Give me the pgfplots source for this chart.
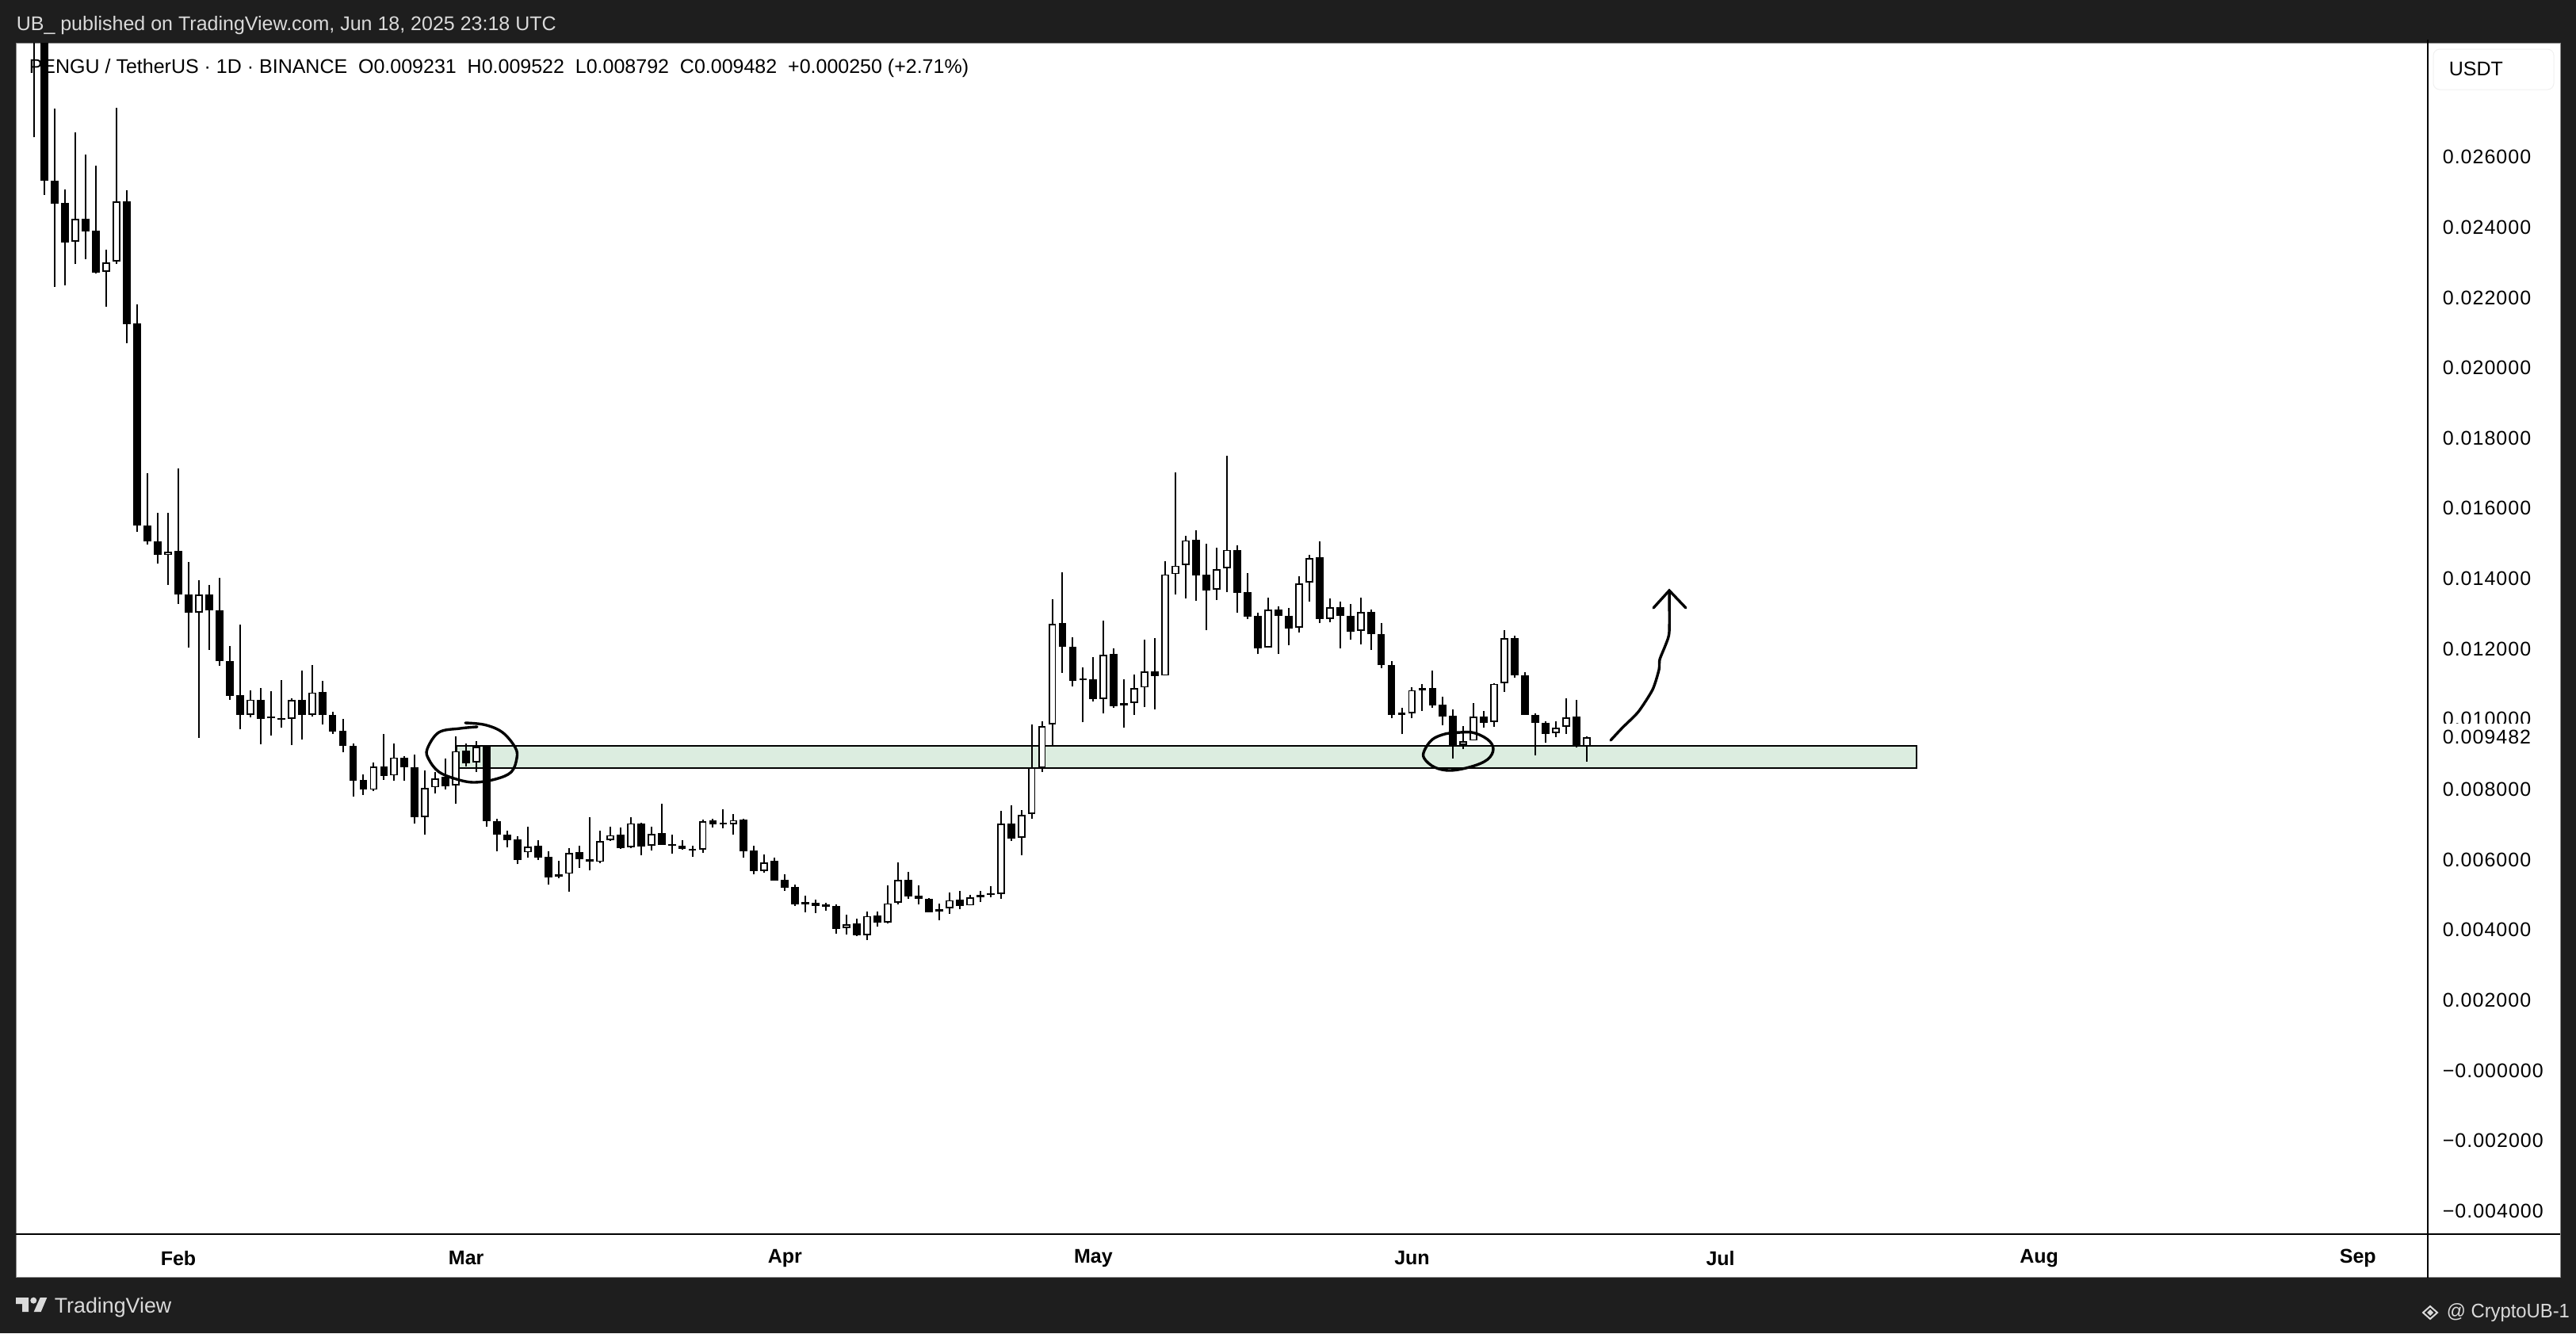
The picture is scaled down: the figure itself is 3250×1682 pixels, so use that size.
\documentclass[border=0pt]{standalone}
\usepackage{pgfplots}
\usepackage{pgfplotstable}
\pgfplotsset{compat=1.18}
\usepackage{fontspec}
\setmainfont{Liberation Sans}
\newfontfamily\tickfont[LetterSpace=4]{Liberation Sans}
\definecolor{frame}{HTML}{1E1E1E}
\definecolor{foot}{HTML}{DADADA}
\definecolor{band}{HTML}{DCEDE0}
\definecolor{edge}{HTML}{8A8A8A}
\newcommand{\hdfont}{\fontsize{6.25bp}{7bp}\selectfont}
\newcommand{\tkfont}{\tickfont\fontsize{6.25bp}{7bp}\selectfont}

% day (0 = 1 Feb 2025)  open  high  low  close
\pgfplotstableread{
d o h l c
-14 .03100 .03200 .02656 .03000
-13 .03000 .03100 .02492 .02532
-12 .02532 .02738 .02230 .02467
-11 .02469 .02507 .02234 .02357
-9 .02424 .02607 .02309 .02388
-8 .02390 .02575 .02268 .02271
-5 .02474 .02505 .02070 .02124
-4 .02126 .02180 .01533 .01552
-3 .01552 .01699 .01498 .01506
-2 .01507 .01588 .01443 .01468
0 .01478 .01713 .01328 .01355
1 .01356 .01448 .01204 .01303
3 .01356 .01381 .01197 .01309
4 .01309 .01402 .01152 .01165
5 .01166 .01208 .01056 .01066
6 .01068 .01269 .00972 .01013
8 .01056 .01088 .00929 .01001
9 .01007 .01080 .00954 .01002
10 .01004 .01111 .00976 .00999
12 .01056 .01139 .00943 .01013
14 .01077 .01108 .00986 .01011
15 .01011 .01020 .00958 .00965
16 .00966 .01000 .00906 .00923
17 .00923 .00932 .00780 .00825
18 .00826 .00842 .00785 .00799
20 .00866 .00957 .00828 .00839
22 .00891 .00895 .00824 .00864
23 .00864 .00899 .00702 .00722
26 .00837 .00887 .00801 .00810
28 .00910 .00932 .00866 .00874
30 .00923 .00923 .00695 .00710
31 .00710 .00716 .00625 .00672
32 .00672 .00682 .00636 .00656
33 .00657 .00668 .00587 .00600
35 .00639 .00656 .00600 .00607
36 .00608 .00625 .00530 .00550
39 .00621 .00641 .00577 .00601
40 .00601 .00722 .00571 .00594
43 .00671 .00691 .00631 .00633
45 .00704 .00705 .00613 .00638
47 .00675 .00759 .00643 .00643
48 .00645 .00671 .00617 .00640
49 .00639 .00656 .00629 .00631
50 .00631 .00640 .00609 .00626
52 .00711 .00716 .00692 .00701
53 .00705 .00743 .00689 .00700
55 .00714 .00716 .00607 .00625
56 .00626 .00639 .00559 .00568
58 .00597 .00607 .00541 .00541
59 .00542 .00558 .00511 .00520
60 .00522 .00529 .00469 .00473
61 .00479 .00498 .00451 .00474
62 .00477 .00486 .00449 .00469
63 .00472 .00477 .00456 .00467
64 .00468 .00474 .00390 .00404
66 .00419 .00432 .00383 .00385
68 .00441 .00453 .00410 .00421
71 .00544 .00565 .00489 .00495
72 .00497 .00527 .00473 .00488
73 .00488 .00490 .00450 .00450
76 .00486 .00511 .00460 .00468
78 .00499 .00511 .00480 .00494
79 .00505 .00524 .00494 .00500
81 .00704 .00755 .00654 .00661
86 .01273 .01419 .01132 .01207
87 .01207 .01233 .01094 .01109
88 .01116 .01147 .00991 .01111
89 .01113 .01176 .01050 .01057
91 .01185 .01201 .01033 .01038
92 .01045 .01113 .00975 .01039
95 .01137 .01230 .01028 .01123
99 .01510 .01537 .01337 .01410
100 .01411 .01499 .01254 .01367
103 .01482 .01494 .01304 .01360
104 .01361 .01415 .01284 .01292
105 .01293 .01302 .01185 .01202
107 .01311 .01322 .01185 .01295
108 .01295 .01316 .01210 .01259
111 .01460 .01506 .01273 .01286
113 .01320 .01334 .01202 .01295
114 .01295 .01328 .01227 .01249
116 .01306 .01311 .01197 .01243
117 .01243 .01273 .01146 .01155
118 .01155 .01165 .01002 .01013
119 .01018 .01033 .00957 .01013
121 .01088 .01099 .01024 .01083
122 .01088 .01138 .01033 .01039
123 .01041 .01065 .00983 .01007
124 .01009 .01027 .00889 .00926
127 .01008 .01023 .00977 .00990
130 .01232 .01238 .01119 .01125
131 .01126 .01133 .01013 .01013
132 .01013 .01016 .00898 .00989
133 .00989 .00993 .00934 .00959
136 .01007 .01054 .00919 .00925
}\downcandles

\pgfplotstableread{
d o h l c
-10 .02359 .02670 .02295 .02424
-7 .02273 .02336 .02174 .02300
-6 .02302 .02740 .02295 .02474
-1 .01468 .01587 .01383 .01477
2 .01304 .01395 .00947 .01355
7 .01013 .01083 .01006 .01056
11 .01001 .01060 .00927 .01055
13 .01013 .01155 .01008 .01076
19 .00799 .00877 .00795 .00866
21 .00840 .00932 .00824 .00891
24 .00722 .00854 .00672 .00804
25 .00806 .00850 .00788 .00831
27 .00811 .00952 .00760 .00909
29 .00877 .00937 .00850 .00921
34 .00621 .00693 .00605 .00638
37 .00551 .00598 .00548 .00559
38 .00560 .00633 .00510 .00620
41 .00594 .00682 .00591 .00654
42 .00656 .00695 .00654 .00670
44 .00635 .00722 .00634 .00704
46 .00640 .00693 .00627 .00674
51 .00628 .00714 .00620 .00710
54 .00701 .00729 .00672 .00713
57 .00568 .00614 .00564 .00593
65 .00405 .00443 .00388 .00417
67 .00386 .00453 .00372 .00440
69 .00422 .00527 .00419 .00476
70 .00477 .00592 .00473 .00543
74 .00452 .00475 .00428 .00460
75 .00462 .00507 .00446 .00485
77 .00470 .00499 .00470 .00493
80 .00503 .00740 .00489 .00703
82 .00662 .00742 .00613 .00727
83 .00730 .00985 .00717 .00862
84 .00862 .00995 .00850 .00981
85 .00985 .01342 .00925 .01272
90 .01058 .01280 .01017 .01184
93 .01046 .01128 .01013 .01089
94 .01090 .01226 .01034 .01136
96 .01124 .01449 .01124 .01412
97 .01413 .01703 .01355 .01437
98 .01438 .01522 .01344 .01509
101 .01368 .01487 .01340 .01427
102 .01429 .01750 .01362 .01482
106 .01204 .01347 .01204 .01311
109 .01260 .01406 .01247 .01386
110 .01389 .01467 .01335 .01459
112 .01285 .01343 .01276 .01319
115 .01252 .01347 .01213 .01305
120 .01016 .01090 .01002 .01083
125 .00926 .00980 .00915 .00938
126 .00939 .01045 .00939 .01007
128 .00992 .01103 .00979 .01101
129 .01102 .01253 .01078 .01231
134 .00960 .00995 .00949 .00976
135 .00978 .01059 .00959 .01005
137 .009231 .009522 .008792 .009482
}\upcandles

\pgfplotsset{
  vbar/.style 2 args={draw=none, mark=none, forget plot,
    error bars/.cd, y dir=plus, y explicit, error mark=none,
    error bar style={draw=#1, solid, line width=#2}},
}

\begin{document}
\begin{tikzpicture}[x=0.25bp,y=-0.25bp]
\fill[frame] (0,0) rectangle (3250,1682);
\useasboundingbox (0,0) rectangle (3250,1682);
\fill[white,draw=edge,line width=0.25bp] (20,54) rectangle (3230,1611);

\begin{axis}[
  at={(5bp,-13.5bp)}, anchor=north west,
  scale only axis, width=760.75bp, height=375.75bp,
  xmin=-15.806, xmax=218.81, ymin=-0.004656, ymax=0.02925,
  axis x line*=bottom, axis y line*=right,
  axis line style={black,line width=0.5bp,-},
  major tick length=0pt,
  scaled y ticks=false,
  xtick={0,28,59,89,120,150,181,212},
  xticklabels={Feb,Mar,Apr,May,Jun,Jul,Aug,Sep},
  xticklabel style={font=\hdfont\bfseries, anchor=center, yshift=-7.6bp},
  ytick={-0.004,-0.002,0,0.002,0.004,0.006,0.008,0.010,0.012,0.014,0.016,0.018,0.020,0.022,0.024,0.026},
  yticklabels={−0.004000,−0.002000,−0.000000,0.002000,0.004000,0.006000,0.008000,0.010000,0.012000,0.014000,0.016000,0.018000,0.020000,0.022000,0.024000,0.026000},
  yticklabel style={font=\tkfont, anchor=west, inner sep=0pt, xshift=4.5bp},
  clip=true,
]
% support zone
\addplot[fill=band, draw=black, line width=0.5bp, forget plot] coordinates
  {(27.06,0.00924)(169.08,0.00924)(169.08,0.00860)(27.06,0.00860)} -- cycle;
% wicks
\addplot[vbar={black}{0.5bp}]
  table[x=d, y=l, y error plus expr=\thisrow{h}-\thisrow{l}] {\downcandles};
\addplot[vbar={black}{0.5bp}]
  table[x=d, y=l, y error plus expr=\thisrow{h}-\thisrow{l}] {\upcandles};
% falling bodies
\addplot[vbar={black}{2.45bp}]
  table[x=d, y=c, y error plus expr=\thisrow{o}-\thisrow{c}] {\downcandles};
% rising bodies: black outline, white core
\addplot[vbar={black}{2.45bp}]
  table[x=d, y=o, y error plus expr=\thisrow{c}-\thisrow{o}] {\upcandles};
\addplot[vbar={white}{1.5bp}]
  table[x=d, y expr=\thisrow{o}+0.00004, y error plus expr=\thisrow{c}-\thisrow{o}-0.00008] {\upcandles};
\end{axis}

% pane rules past the axis box
\draw[black,line width=0.5bp] (3063,50) -- (3063,1612);
\draw[black,line width=0.5bp] (3063,1557) -- (3230,1557);

% hand-drawn marks
\draw[black,line width=0.85bp,line cap=round,line join=round] plot[smooth,tension=0.6] coordinates
 {(587,912)(612,914.5)(634,924)(650,943)(652,956.5)(645,974)(625,983)(598,987)(576,983)(553.6,973.7)(541,958)(539,945)(553.6,924)(580.4,919)(602,917)};
\draw[black,line width=0.85bp,line cap=round,line join=round] plot[smooth,tension=0.6] coordinates
 {(1833,925)(1857,924)(1877,933)(1884,945)(1877,958)(1857,967)(1830,972)(1810,968)(1797,957)(1797,947)(1807,933)(1823,926)(1840,924)};
\draw[black,line width=0.85bp,line cap=round,line join=round] plot[smooth,tension=0.4] coordinates
 {(2032,934)(2047,918)(2067,898)(2085,870)(2093,845)(2094,832)(2102,812)(2106,797)(2106,745)};
\draw[black,line width=0.85bp,line cap=round,line join=miter] (2086,767) -- (2106,745) -- (2127,767);

% header, footer, legend
\node[anchor=west,inner sep=0pt,text=foot,font=\hdfont] at (20,32) {UB\_ published on TradingView.com, Jun 18, 2025 23:18 UTC};
\node[anchor=west,inner sep=0pt,text=black,font=\hdfont] at (36,86) {PENGU / TetherUS · 1D · BINANCE\ \ O0.009231\ \ H0.009522\ \ L0.008792\ \ C0.009482\ \ +0.000250 (+2.71\%)};
\draw[black!6,rounded corners=2bp,line width=0.25bp] (3070,62) rectangle (3222,113);
\node[anchor=west,inner sep=0pt,text=black,font=\hdfont] at (3089,87) {USDT};
\fill[white] (3070,913) rectangle (3226,950);
\node[anchor=west,inner sep=0pt,text=black,font=\tkfont] at (3081,930) {0.009482};

% footer: logo and wordmark
\fill[foot] (20,1637) -- (36,1637) -- (36,1655) -- (28,1655) -- (28,1645) -- (20,1645) -- cycle;
\fill[foot] (42.3,1640.7) circle (4);
\fill[foot] (59.3,1637) -- (51.7,1655) -- (42.7,1655) -- (50.7,1637) -- cycle;
\node[anchor=west,inner sep=0pt,text=foot,font=\fontsize{6.7bp}{8bp}\selectfont] at (68,1650) {TradingView};
\draw[foot,line width=0.5bp] (3066,1648) -- (3075,1656) -- (3066,1664) -- (3057,1656) -- cycle;
\fill[foot] (3066,1652) -- (3070,1656) -- (3066,1660) -- (3062,1656) -- cycle;
\node[anchor=west,inner sep=0pt,text=foot,font=\fontsize{6.2bp}{8bp}\selectfont] at (3086,1656) {\scalebox{0.96}[1]{@ CryptoUB-1}};
\end{tikzpicture}
\end{document}
